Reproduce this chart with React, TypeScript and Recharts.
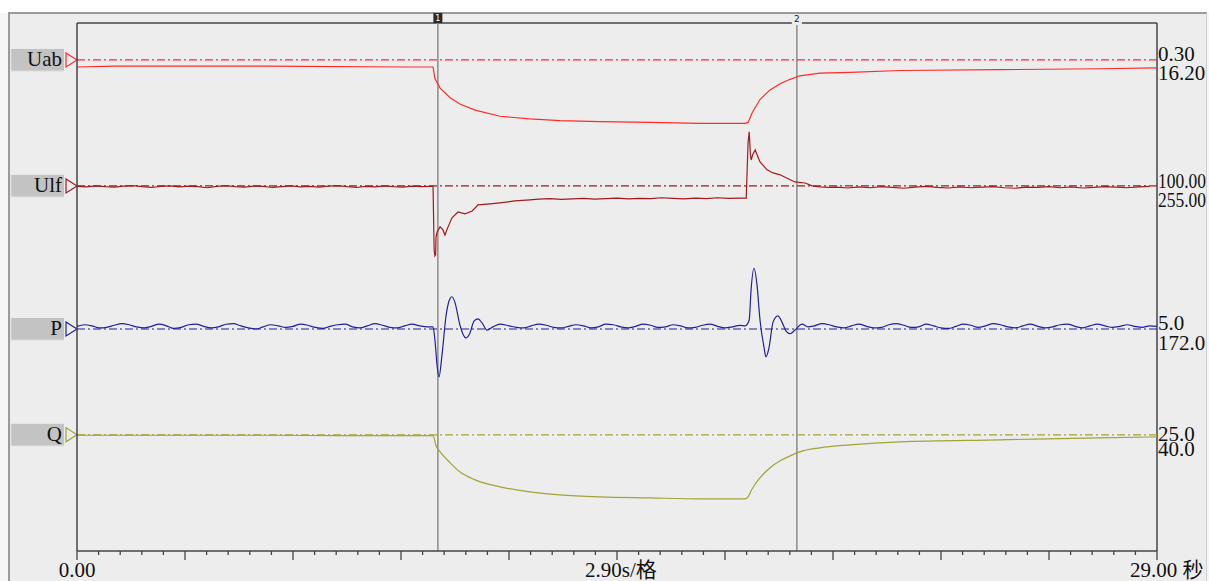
import React from 'react';
import { LineChart, Line, XAxis, YAxis, ReferenceLine } from 'recharts';

const W = 1209;
const H = 581;
const FONT = '"Liberation Serif", "Times New Roman", "Noto Sans CJK SC", serif';

// time base: 10 divisions of 2.90 s, 5 minor ticks per division
const tMax = 29;
const tDiv = 2.9;
const xLabels = [
  { t: 0, text: '0.00', dx: 0, anchor: 'middle' },
  { t: 14.5, text: '2.90s/格', dx: 4, anchor: 'middle' },
  { t: 29, text: '29.00 秒', dx: -27, anchor: 'start' },
];

// channels
const channelNames = ['Uab', 'Ulf', 'P', 'Q'];
const scaleLabels = ['0.30', '100.00', '5.0', '25.0']; // value per division
const refLabels = ['16.20', '255.00', '172.0', '40.0']; // value on the dash-dot line
const channelColors = ['#ff2b2b', '#a01c1c', '#20209c', '#a3a336'];
const refDivs = [1.4, 6.17, 11.59, 15.6]; // dash-dot line, divisions below top
const labelDy = [[1, 20], [2, 21], [1, 21], [6, 21]];
const labelFit = [0, 48, 0, 0];

// cursors
const cursorTimes = [9.69, 19.33];
const cursorNames = ['1', '2'];

// Uab, kV
const uabT = [0, 1.0, 5.0, 8.8, 9.56, 9.61, 9.75, 10.02, 10.28, 10.69, 11.36, 12.16, 12.97, 14.04, 15.39, 16.73, 17.94, 18.02, 18.13, 18.34, 18.61, 18.88, 19.15, 19.41, 19.95, 20.76, 22.1, 24.79, 27.47, 29];
const uabV = [16.12, 16.13, 16.13, 16.12, 16.12, 15.99, 15.88, 15.77, 15.7, 15.63, 15.56, 15.53, 15.51, 15.5, 15.49, 15.48, 15.48, 15.49, 15.6, 15.75, 15.86, 15.93, 15.98, 16.02, 16.05, 16.06, 16.08, 16.09, 16.1, 16.11];

// Ulf, V
const ulfPre = [253, 251, 255, 252, 250, 254, 256, 252, 249, 253, 255, 251, 254, 252, 248, 253, 256, 252, 250, 254, 253, 249, 252, 255, 251, 253, 250, 254, 256, 252, 249, 253, 251, 255, 252, 250, 254, 252, 253]; // 0 s, every 0.25 s
const ulfDropT = [9.56, 9.59, 9.61, 9.63, 9.64, 9.67, 9.75, 9.82, 9.88, 9.95, 10.07, 10.23, 10.42, 10.61, 10.77, 11.09, 11.36, 11.76, 12.16];
const ulfDropV = [253, 12, -10, -5, 60, 80, 100, 90, 69, 95, 134, 156, 149, 160, 183, 187, 191, 198, 202];
const ulfMid = [205, 207, 204, 206, 208, 205, 207, 209, 206, 208, 207, 210, 208, 206, 209, 207, 210, 208, 209]; // 12.4 s, every 0.3 s
const ulfRiseT = [17.94, 17.97, 18.02, 18.05, 18.08, 18.1, 18.15, 18.21, 18.27, 18.34, 18.53, 18.69, 18.88, 19.15, 19.28, 19.55, 19.74, 19.95, 20.2];
const ulfRiseV = [209, 209, 420, 460, 380, 353, 375, 391, 370, 346, 316, 304, 297, 278, 270, 266, 255, 251, 249];
const ulfPost = [250, 247, 251, 248, 252, 249, 246, 250, 253, 249, 247, 251, 248, 250, 252, 248, 246, 250, 249, 252, 248, 251, 247, 249, 252, 250, 248, 251, 253]; // 20.4 s, every 0.3 s

// P, MW
const pPre = [172.5, 172.8, 172.6, 172.2, 172.3, 172.7, 173.0, 172.8, 172.4, 172.2, 172.5, 172.9, 172.6, 172.1, 172.3, 172.8, 172.9, 172.5, 172.2, 172.4, 172.9, 173.0, 172.6, 172.2, 172.0, 172.4, 172.8, 172.6, 172.3, 172.5, 172.9, 172.7, 172.3, 172.1, 172.5, 172.8, 172.9, 172.4, 172.2, 172.6, 173.0, 172.7, 172.3, 172.2, 172.6, 172.9, 172.6, 172.4]; // 0 s, every 0.2 s
const pSwing1T = [9.56, 9.61, 9.67, 9.72, 9.8, 9.91, 9.99, 10.07, 10.15, 10.28, 10.44, 10.55, 10.66, 10.77, 10.88, 11.01, 11.17, 11.36];
const pSwing1V = [172.4, 170.0, 165.0, 162.9, 167.0, 174.5, 177.3, 178.1, 177.0, 172.8, 170.3, 171.2, 173.5, 173.9, 173.1, 171.8, 172.4, 172.9];
const pMid = [172.6, 172.3, 172.2, 172.6, 172.9, 172.7, 172.3, 172.2, 172.5, 172.8, 172.6, 172.2, 172.4, 172.9, 172.8, 172.4, 172.2, 172.5, 172.9, 172.7, 172.3, 172.4, 172.8, 172.6, 172.2, 172.3, 172.7, 172.9, 172.5, 172.2, 172.4, 172.7]; // 11.6 s, every 0.2 s
const pSwing2T = [17.94, 18.05, 18.1, 18.18, 18.26, 18.34, 18.45, 18.5, 18.58, 18.69, 18.82, 18.93, 19.04, 19.15, 19.28, 19.47, 19.63];
const pSwing2V = [172.6, 173.7, 179.4, 183.5, 180.3, 173.7, 168.4, 166.7, 168.4, 173.3, 174.5, 173.3, 171.6, 171.1, 171.8, 172.9, 172.4];
const pPost = [172.6, 173.0, 172.8, 172.4, 172.2, 172.6, 172.9, 172.5, 172.2, 172.3, 172.8, 173.0, 172.7, 172.3, 172.4, 172.9, 172.6, 172.2, 172.1, 172.5, 172.9, 172.7, 172.3, 172.6, 173.0, 172.8, 172.4, 172.2, 172.6, 172.9, 172.5, 172.2, 172.4, 172.8, 172.9, 172.5, 172.2, 172.6, 172.9, 172.6, 172.3, 172.5, 172.8, 172.5, 172.3, 172.6, 172.5]; // 19.8 s, every 0.2 s

// Q, Mvar
const qT = [0, 5.0, 7.0, 9.56, 9.64, 9.75, 10.02, 10.28, 10.69, 11.36, 12.16, 12.97, 14.04, 15.39, 16.73, 17.94, 18.02, 18.13, 18.34, 18.61, 18.88, 19.15, 19.41, 19.95, 20.76, 22.1, 24.79, 27.47, 29];
const qV = [39.6, 39.6, 39.2, 39.2, 29.6, 23.9, 13.5, 5.0, -2.6, -9.2, -14.0, -16.8, -18.7, -19.7, -20.6, -20.6, -18.7, -11.1, -0.7, 8.8, 15.4, 20.1, 23.9, 27.7, 30.5, 33.4, 35.3, 37.2, 38.1];

const pts = (ts: number[], vs: number[]) => ts.map((t, i) => ({ t, v: vs[i] }));
const seg = (t0: number, dt: number, vs: number[]) =>
  vs.map((v, i) => ({ t: Math.round((t0 + i * dt) * 1000) / 1000, v }));

const seriesData = [
  pts(uabT, uabV),
  [...seg(0, 0.25, ulfPre), ...pts(ulfDropT, ulfDropV), ...seg(12.4, 0.3, ulfMid), ...pts(ulfRiseT, ulfRiseV), ...seg(20.4, 0.3, ulfPost)],
  [...seg(0, 0.2, pPre), ...pts(pSwing1T, pSwing1V), ...seg(11.6, 0.2, pMid), ...pts(pSwing2T, pSwing2V), ...seg(19.8, 0.2, pPost)],
  pts(qT, qV),
];
const lineTypes = ['linear', 'linear', 'monotone', 'monotone'];

const xTicks = Array.from({ length: 51 }, (_, i) => Math.round(i * (tDiv / 5) * 1000) / 1000);
const divTicks = Array.from({ length: 21 }, (_, i) => i);

const ids = ['uab', 'ulf', 'p', 'q'];
const domains = ids.map((_, i) => {
  const ref = Number(refLabels[i]);
  const per = Number(scaleLabels[i]);
  return [ref - (20 - refDivs[i]) * per, ref + refDivs[i] * per];
});

function XTick({ x, y, payload }: any) {
  const v = payload.value;
  const major = Math.abs(v / tDiv - Math.round(v / tDiv)) < 1e-6;
  const lab = xLabels.find((l) => Math.abs(l.t - v) < 1e-6);
  return (
    <g>
      <line x1={x} x2={x} y1={y} y2={y + (major ? 9 : 4)} stroke="#444" strokeWidth={1.3} />
      {lab && (
        <text x={x + lab.dx} y={y + 26} textAnchor={lab.anchor} fontSize={21} fontFamily={FONT} fill="#111">
          {lab.text}
        </text>
      )}
    </g>
  );
}

function ChannelLabel({ viewBox, idx }: any) {
  const { x, y, width } = viewBox;
  const r = x + width;
  const color = channelColors[idx];
  const fit = labelFit[idx];
  const fitProps = fit ? { textLength: fit, lengthAdjust: 'spacingAndGlyphs' } : {};
  return (
    <g>
      <rect x={x - 66} y={y - 11} width={53} height={22} fill="#c3c3c3" />
      <path d={`M${x - 66} ${y - 11} V${y + 11} H${x - 13}`} stroke="#dadada" fill="none" />
      <text x={x - 15} y={y + 6} textAnchor="end" fontSize={21} fontFamily={FONT} fill="#111">
        {channelNames[idx]}
      </text>
      <path d={`M${x - 11} ${y - 7} L${x} ${y} L${x - 11} ${y + 7} Z`} fill="none" stroke={color} strokeWidth={1.2} />
      <text x={r + 1} y={y + labelDy[idx][0]} fontSize={21} fontFamily={FONT} fill="#111" {...fitProps}>
        {scaleLabels[idx]}
      </text>
      <text x={r + 1} y={y + labelDy[idx][1]} fontSize={21} fontFamily={FONT} fill="#111" {...fitProps}>
        {refLabels[idx]}
      </text>
    </g>
  );
}

function CursorMark({ viewBox, idx }: any) {
  const { x, y } = viewBox;
  if (idx === 0) {
    return (
      <g>
        <rect x={x - 4.5} y={y - 10} width={9} height={10} fill="#2a2a2a" />
        <text x={x} y={y - 2} textAnchor="middle" fontSize={8} fontFamily="DejaVu Sans" fill="#fff">
          {cursorNames[idx]}
        </text>
      </g>
    );
  }
  return (
    <g>
      <rect x={x - 5} y={y - 3} width={10} height={5} fill="#ededed" />
      <text x={x} y={y - 1} textAnchor="middle" fontSize={9} fontFamily="DejaVu Sans" fill="#222">
        {cursorNames[idx]}
      </text>
    </g>
  );
}

export default function App() {
  return (
    <div style={{ position: 'absolute', left: 0, top: 0, width: W, height: H, background: '#f6f6f6', overflow: 'hidden' }}>
      <div style={{ position: 'absolute', left: 0, top: 0, width: W, height: 13, background: '#fff' }} />
      <div
        style={{
          position: 'absolute', left: 8, top: 12, width: W - 10, height: H - 12, boxSizing: 'border-box',
          background: '#ededed', borderLeft: '2px solid #9a9a9a', borderTop: '2px solid #9a9a9a', borderRight: '1px solid #d0d0d0',
        }}
      />
      <div style={{ position: 'absolute', left: 0, top: 0 }}>
        <LineChart width={W} height={H} margin={{ top: 23, right: 52, bottom: 0, left: 67 }}>
          <XAxis
            dataKey="t" type="number" domain={[0, tMax]} ticks={xTicks} interval={0} allowDataOverflow
            tickLine={false} tickSize={0} tickMargin={0} height={30}
            axisLine={{ stroke: '#444', strokeWidth: 1.5 }} tick={<XTick />}
          />
          <YAxis
            yAxisId="div" type="number" domain={[0, 20]} ticks={divTicks} interval={0} width={10}
            tick={false} tickSize={4} tickLine={{ stroke: '#444' }} axisLine={{ stroke: '#444', strokeWidth: 1.5 }}
          />
          {ids.map((id, i) => (
            <YAxis key={id} yAxisId={id} hide type="number" allowDataOverflow domain={domains[i]} />
          ))}
          <ReferenceLine yAxisId="uab" y={domains[0][1]} stroke="#444" strokeWidth={1.5} ifOverflow="visible" />
          <ReferenceLine yAxisId="uab" x={tMax} stroke="#444" strokeWidth={1.5} ifOverflow="visible" />
          {cursorTimes.map((t, i) => (
            <ReferenceLine
              key={'c' + i} yAxisId="uab" x={t} stroke="#8c8c8c" strokeWidth={1.5} ifOverflow="visible"
              label={<CursorMark idx={i} />}
            />
          ))}
          {ids.map((id, i) => (
            <ReferenceLine
              key={'r' + id} yAxisId={id} y={Number(refLabels[i])} stroke={channelColors[i]}
              strokeWidth={1.2} strokeDasharray="8 3 2 3" label={<ChannelLabel idx={i} />}
            />
          ))}
          {ids.map((id, i) => (
            <Line
              key={id} yAxisId={id} data={seriesData[i]} dataKey="v" type={lineTypes[i] as any} dot={false}
              stroke={channelColors[i]} strokeWidth={1.2} isAnimationActive={false}
            />
          ))}
        </LineChart>
      </div>
    </div>
  );
}
